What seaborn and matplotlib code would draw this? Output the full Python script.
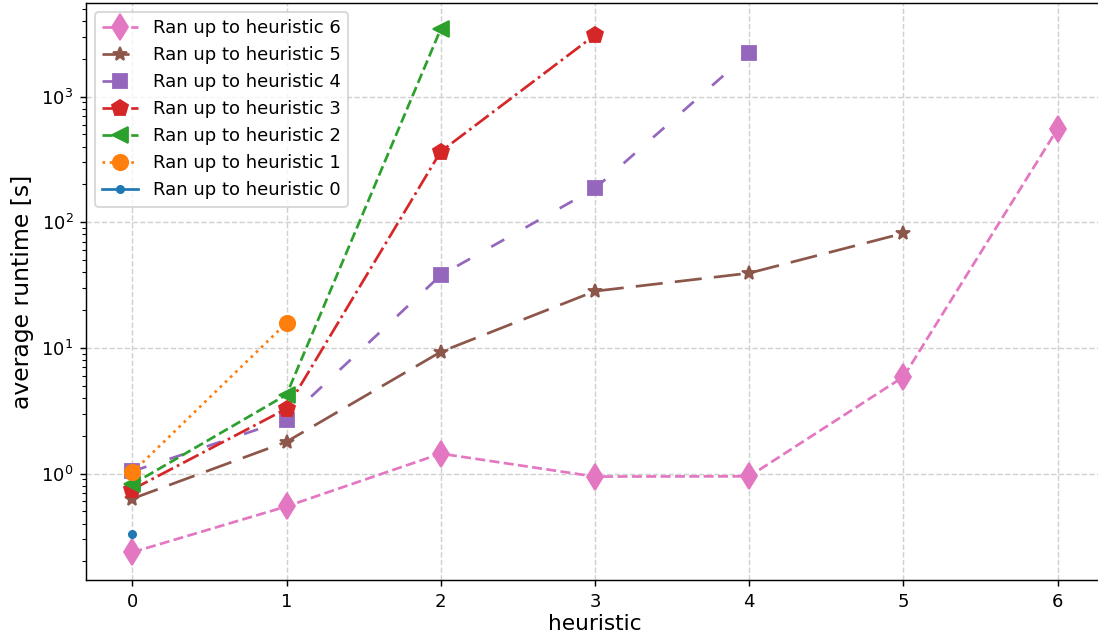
import matplotlib
matplotlib.use("Agg")
import matplotlib.pyplot as plt
import seaborn as sns
import numpy as np

# heuristic index on the x axis
heuristics = [0, 1, 2, 3, 4, 5, 6]

# average runtime (seconds) for each run, indexed by the last heuristic used
runtime_h6 = [0.236, 0.547, 1.44, 0.946, 0.95, 5.89, 557.0]
runtime_h5 = [0.63, 1.79, 9.3, 28.3, 39.4, 81.8]
runtime_h4 = [1.04, 2.68, 37.9, 186.0, 2230.0]
runtime_h3 = [0.746, 3.28, 366.0, 3100.0]
runtime_h2 = [0.82, 4.24, 3460.0]
runtime_h1 = [1.02, 15.8]
runtime_h0 = [0.328]

series = [
    ("Ran up to heuristic 6", runtime_h6, "tab:pink", "d", (3.7, 1.6), 10),
    ("Ran up to heuristic 5", runtime_h5, "tab:brown", "*", (10, 4.5), 8),
    ("Ran up to heuristic 4", runtime_h4, "tab:purple", "s", (5.5, 9), 8),
    ("Ran up to heuristic 3", runtime_h3, "tab:red", "p", (6.4, 1.6, 1, 1.6), 9),
    ("Ran up to heuristic 2", runtime_h2, "tab:green", "<", (3.7, 1.6), 9),
    ("Ran up to heuristic 1", runtime_h1, "tab:orange", "o", (1, 1.65), 8.5),
    ("Ran up to heuristic 0", runtime_h0, "tab:blue", ".", None, 8),
]

dpi = 130
fig = plt.figure(figsize=(1098 / dpi, 644 / dpi), dpi=dpi)
ax = fig.add_axes([86 / 1098, 64 / 644, 1018 / 1098, 577 / 644])

for label, values, color, marker, dashes, ms in series:
    xs = heuristics[: len(values)]
    line_kws = dict(color=color, marker=marker, markersize=ms,
                    markeredgecolor=color, markerfacecolor=color,
                    markeredgewidth=1, linewidth=1.5, label=label)
    sns.lineplot(x=xs, y=values, ax=ax, **line_kws)
    if dashes is not None:
        ax.lines[-1].set_dashes(dashes)

ax.set_yscale("log")
ax.set_xticks(heuristics)
ax.set_xlim(-0.3, 6.3)
ax.set_ylim(0.142, 5570)
ax.grid(True, which="major", linestyle="--", color="0.82", linewidth=0.8)
ax.set_axisbelow(True)
ax.set_xlabel("heuristic", fontsize=12, labelpad=2)
ax.set_ylabel("average runtime [s]", fontsize=13)
ax.tick_params(labelsize=10)
ax.legend(loc="upper left", fontsize=10)

fig.savefig("out.png", dpi=dpi)
